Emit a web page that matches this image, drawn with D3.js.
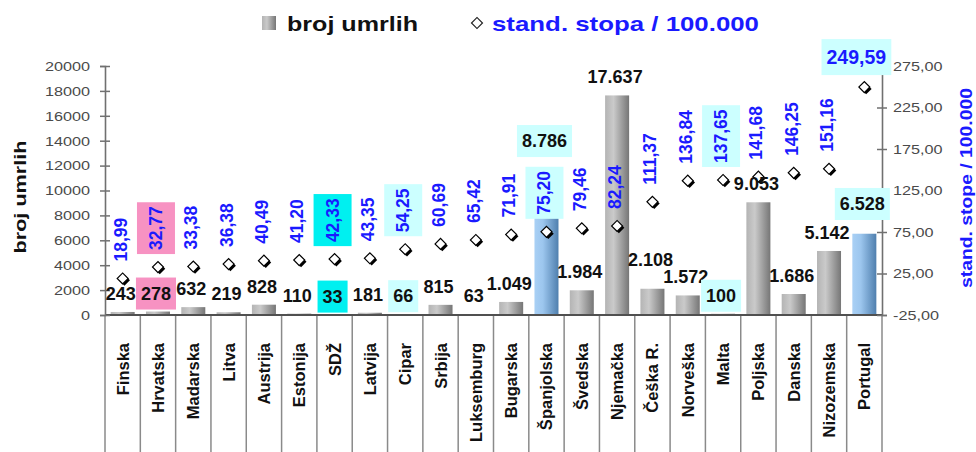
<!DOCTYPE html>
<html>
<head>
<meta charset="utf-8">
<script src="https://cdn.jsdelivr.net/npm/d3@7"></script>
<style>
  body { margin: 0; background: #fff; }
  svg { display: block; font-family: "Liberation Sans", Arial, sans-serif; }
</style>
</head>
<body>
<svg id="chart" width="976" height="452"></svg>
<script>
// data
const countries = ["Finska", "Hrvatska", "Madarska", "Litva", "Austrija", "Estonija", "SDŽ", "Latvija",
  "Cipar", "Srbija", "Luksemburg", "Bugarska", "Španjolska", "Švedska", "Njemačka", "Češka R.",
  "Norveška", "Malta", "Poljska", "Danska", "Nizozemska", "Portugal"];
const deaths = [243, 278, 632, 219, 828, 110, 33, 181, 66, 815, 63, 1049, 8786, 1984, 17637, 2108,
  1572, 100, 9053, 1686, 5142, 6528];
const rates = [18.99, 32.77, 33.38, 36.38, 40.49, 41.20, 42.33, 43.35, 54.25, 60.69, 65.42, 71.91,
  75.20, 79.46, 82.24, 111.37, 136.84, 137.65, 141.68, 146.25, 151.16, 249.59];
const leftTicks = [0, 2000, 4000, 6000, 8000, 10000, 12000, 14000, 16000, 18000, 20000];
const rightTicks = [-25, 25, 75, 125, 175, 225, 275];

// label highlights and blue bars
const highlight = {
  "Hrvatska": "#f792c2",
  "SDŽ": "#00f0f0",
  "Cipar": "#ccffff",
  "Španjolska": "#ccffff",
  "Malta": "#ccffff",
  "Portugal": "#ccffff"
};
const blueBars = ["Španjolska", "Portugal"];

const loc = d3.formatLocale({decimal: ",", thousands: ".", grouping: [3], currency: ["", ""], minus: "-"});
const fmtInt = loc.format(",d");
const fmtDec = loc.format(",.2f");

const pLeft = 105, pRight = 882, pTop = 66, pBase = 315, pBottom = 452;
const svg = d3.select("#chart");
const blue = "#1a1aff";

const x = d3.scaleBand().domain(countries).range([pLeft, pRight]).paddingInner(0.32).paddingOuter(0.16);
const yL = d3.scaleLinear().domain([0, 20000]).range([pBase, pTop]);
const yR = d3.scaleLinear().domain([-25, 275]).range([pBase, pTop]);
const cx = d => x(d) + x.bandwidth() / 2;

// the original's lettering is a bit wider than Liberation Sans
function stretch(sel, k) {
  sel.each(function() {
    const w = this.getComputedTextLength();
    d3.select(this).attr("textLength", w * k).attr("lengthAdjust", "spacingAndGlyphs");
  });
}

const defs = svg.append("defs");
function grad(id, stops) {
  const g = defs.append("linearGradient").attr("id", id).attr("x1", 0).attr("x2", 1).attr("y1", 0).attr("y2", 0);
  stops.forEach(([o, c]) => g.append("stop").attr("offset", o).attr("stop-color", c));
}
grad("gGray", [[0, "#b4b4b4"], [0.35, "#cacaca"], [1, "#767676"]]);
grad("gBlue", [[0, "#a9d0f5"], [0.35, "#9cc6ee"], [1, "#4f7fae"]]);

// bars
svg.append("g").selectAll("rect")
  .data(countries)
  .join("rect")
  .attr("x", d => x(d))
  .attr("width", x.bandwidth())
  .attr("y", (d, i) => yL(deaths[i]))
  .attr("height", (d, i) => pBase - yL(deaths[i]))
  .attr("fill", d => blueBars.includes(d) ? "url(#gBlue)" : "url(#gGray)");

// axes lines, separators
const axisColor = "#707070";
const sep = svg.append("g").attr("stroke", "#8a8a8a").attr("stroke-width", 1.5);
d3.range(countries.length + 1).forEach(i => {
  const xx = pLeft + i * (pRight - pLeft) / countries.length;
  sep.append("line").attr("x1", xx).attr("x2", xx).attr("y1", pBase).attr("y2", pBottom);
});
svg.append("line").attr("x1", pLeft).attr("x2", pRight).attr("y1", pBase).attr("y2", pBase)
  .attr("stroke", "#505050").attr("stroke-width", 2);

const axL = svg.append("g").attr("transform", `translate(${pLeft},0)`)
  .call(d3.axisLeft(yL).tickValues(leftTicks).tickSize(5).tickFormat(d3.format("d")));
const axR = svg.append("g").attr("transform", `translate(${pRight},0)`)
  .call(d3.axisRight(yR).tickValues(rightTicks).tickSize(5).tickFormat(fmtDec));
[axL, axR].forEach(a => {
  a.select(".domain").attr("stroke", axisColor).attr("stroke-width", 1.6);
  a.selectAll(".tick line").attr("stroke", axisColor).attr("stroke-width", 1.5);
  a.selectAll("text").attr("fill", "#4a4a4a").attr("font-size", 13.5);
});
axL.selectAll(".tick line").attr("x1", 5);
axR.selectAll(".tick line").attr("x1", -5);
axL.selectAll("text").attr("x", -15);
axR.selectAll("text").attr("x", 11);
stretch(axL.selectAll("text"), 1.2);
stretch(axR.selectAll("text"), 1.2);

// category labels
svg.append("g").selectAll("text")
  .data(countries)
  .join("text")
  .attr("transform", d => `translate(${cx(d)},${pBase + 28}) rotate(-90)`)
  .attr("text-anchor", "end")
  .attr("dominant-baseline", "central")
  .attr("font-size", 16.5)
  .attr("font-weight", "bold")
  .attr("fill", "#111")
  .text(d => d);

// label with optional background box
function label(g, txt, opts) {
  const t = g.append("text")
    .attr("text-anchor", opts.anchor)
    .attr("dominant-baseline", "central")
    .attr("font-size", opts.size)
    .attr("font-weight", "bold")
    .attr("fill", opts.color)
    .text(txt);
  if (opts.bg) {
    const b = t.node().getBBox();
    g.insert("rect", "text")
      .attr("x", b.x - opts.padX).attr("y", b.y - opts.padY)
      .attr("width", b.width + 2 * opts.padX).attr("height", b.height + 2 * opts.padY)
      .attr("fill", opts.bg);
  }
  return t;
}

function textLen(txt, size) {
  const probe = svg.append("text").attr("font-size", size).attr("font-weight", "bold").text(txt);
  const len = probe.node().getComputedTextLength();
  probe.remove();
  return len;
}

// rate labels
const dLayer = svg.append("g");
const rateTop = {};
countries.forEach((c, i) => {
  const px = cx(c), py = yR(rates[i]);
  const txt = fmtDec(rates[i]);
  const g = dLayer.append("g");
  const len = textLen(txt, 17.5);
  if (py - 18 - len < pTop - 8) {
    g.attr("transform", `translate(${px - 8},${py - 30})`);
    label(g, txt, {anchor: "middle", size: 19.5, color: blue, bg: highlight[c], padX: 5, padY: 7});
    rateTop[c] = py - 42;
  } else {
    g.attr("transform", `translate(${px - 2},${py - 17}) rotate(-90)`);
    label(g, txt, {anchor: "start", size: 17.5, color: blue, bg: highlight[c], padX: 4, padY: 9});
    rateTop[c] = py - 17 - len;
  }
});

// bar value labels: above the bar, above the rate label if they meet, and clear of the neighbour
const bl = countries.map((c, i) => {
  const txt = fmtInt(deaths[i]);
  let yy = yL(deaths[i]) - 18;
  const rBottom = yR(rates[i]) - 13;
  if (yy + 10 > rateTop[c] && yy - 10 < rBottom) yy = rateTop[c] - 30;
  return {c, i, txt, x: cx(c) - 2, y: yy, w: textLen(txt, 18)};
});
for (let k = 1; k < bl.length; k++) {
  const a = bl[k - 1], b = bl[k];
  const xOver = Math.abs(a.x - b.x) < (a.w + b.w) / 2;
  const up = deaths[a.i] > deaths[b.i] ? a : b, low = up === a ? b : a;
  const gap = 17 + (highlight[up.c] ? 12 : 0);
  if (xOver && Math.abs(a.y - b.y) < gap) up.y = low.y - gap;
}
bl.forEach(d => {
  const g = svg.append("g").attr("transform", `translate(${d.x},${d.y})`);
  label(g, d.txt, {anchor: "middle", size: 18, color: "#111", bg: highlight[d.c], padX: 5, padY: 6});
});

// diamonds
const dm = dLayer.append("g");
const sym = d3.symbol().type(d3.symbolSquare).size(60)();
countries.forEach((c, i) => {
  const px = cx(c), py = yR(rates[i]);
  dm.append("path").attr("d", sym).attr("transform", `translate(${px + 1.8},${py + 1.8}) rotate(45)`).attr("fill", "#000");
  dm.append("path").attr("d", sym).attr("transform", `translate(${px},${py}) rotate(45)`)
    .attr("fill", "#fff").attr("stroke", "#000").attr("stroke-width", 1.2);
});

// axis titles
svg.append("text")
  .attr("transform", "translate(20,197) rotate(-90)")
  .attr("text-anchor", "middle").attr("dominant-baseline", "central")
  .attr("font-size", 17).attr("font-weight", "bold").attr("fill", "#111")
  .attr("textLength", 113).attr("lengthAdjust", "spacingAndGlyphs")
  .text("broj umrlih");
svg.append("text")
  .attr("transform", "translate(966,188) rotate(-90)")
  .attr("text-anchor", "middle").attr("dominant-baseline", "central")
  .attr("font-size", 16).attr("font-weight", "bold").attr("fill", blue)
  .attr("textLength", 200).attr("lengthAdjust", "spacingAndGlyphs")
  .text("stand. stope / 100.000");

// legend
const lg = svg.append("g");
lg.append("rect").attr("x", 262).attr("y", 16).attr("width", 14).attr("height", 14).attr("fill", "url(#gGray)");
lg.append("text").attr("x", 287).attr("y", 23).attr("dominant-baseline", "central")
  .attr("font-size", 21).attr("font-weight", "bold").attr("fill", "#111")
  .attr("textLength", 131).attr("lengthAdjust", "spacingAndGlyphs").text("broj umrlih");
lg.append("path").attr("d", sym)
  .attr("transform", "translate(477,23) rotate(45)")
  .attr("fill", "#fff").attr("stroke", "#222").attr("stroke-width", 1.2);
lg.append("text").attr("x", 492).attr("y", 23).attr("dominant-baseline", "central")
  .attr("font-size", 21).attr("font-weight", "bold").attr("fill", blue)
  .attr("textLength", 267).attr("lengthAdjust", "spacingAndGlyphs").text("stand. stopa / 100.000");
</script>
</body>
</html>
